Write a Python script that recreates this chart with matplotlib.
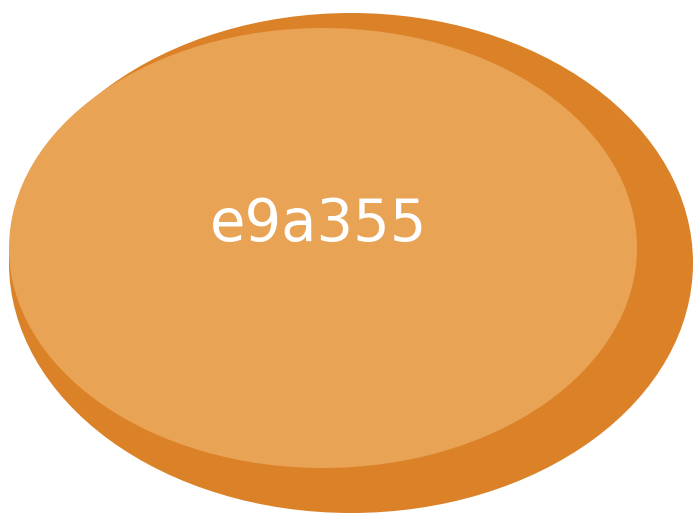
import matplotlib
matplotlib.use("Agg")
import matplotlib.pyplot as plt
from matplotlib.patches import Ellipse

# Shapes (pixel coordinates of the canvas)
centers_x = [351, 323]
centers_y = [263, 248]
widths = [684, 628]
heights = [500, 440]
colors = ["#db8229", "#e9a355"]
label_text = "e9a355"

fig = plt.figure(figsize=(6.93, 5.14), dpi=100)
ax = fig.add_axes([0, 0, 1, 1])
ax.set_xlim(0, 693)
ax.set_ylim(514, 0)
ax.axis("off")

for cx, cy, w, h, c in zip(centers_x, centers_y, widths, heights, colors):
    ax.add_patch(Ellipse((cx, cy), w, h, facecolor=c, edgecolor="none"))

ax.text(318.5, 225, label_text, color="white", fontsize=41.5,
        ha="center", va="center", family="DejaVu Sans")

fig.savefig("out.png", dpi=100)
